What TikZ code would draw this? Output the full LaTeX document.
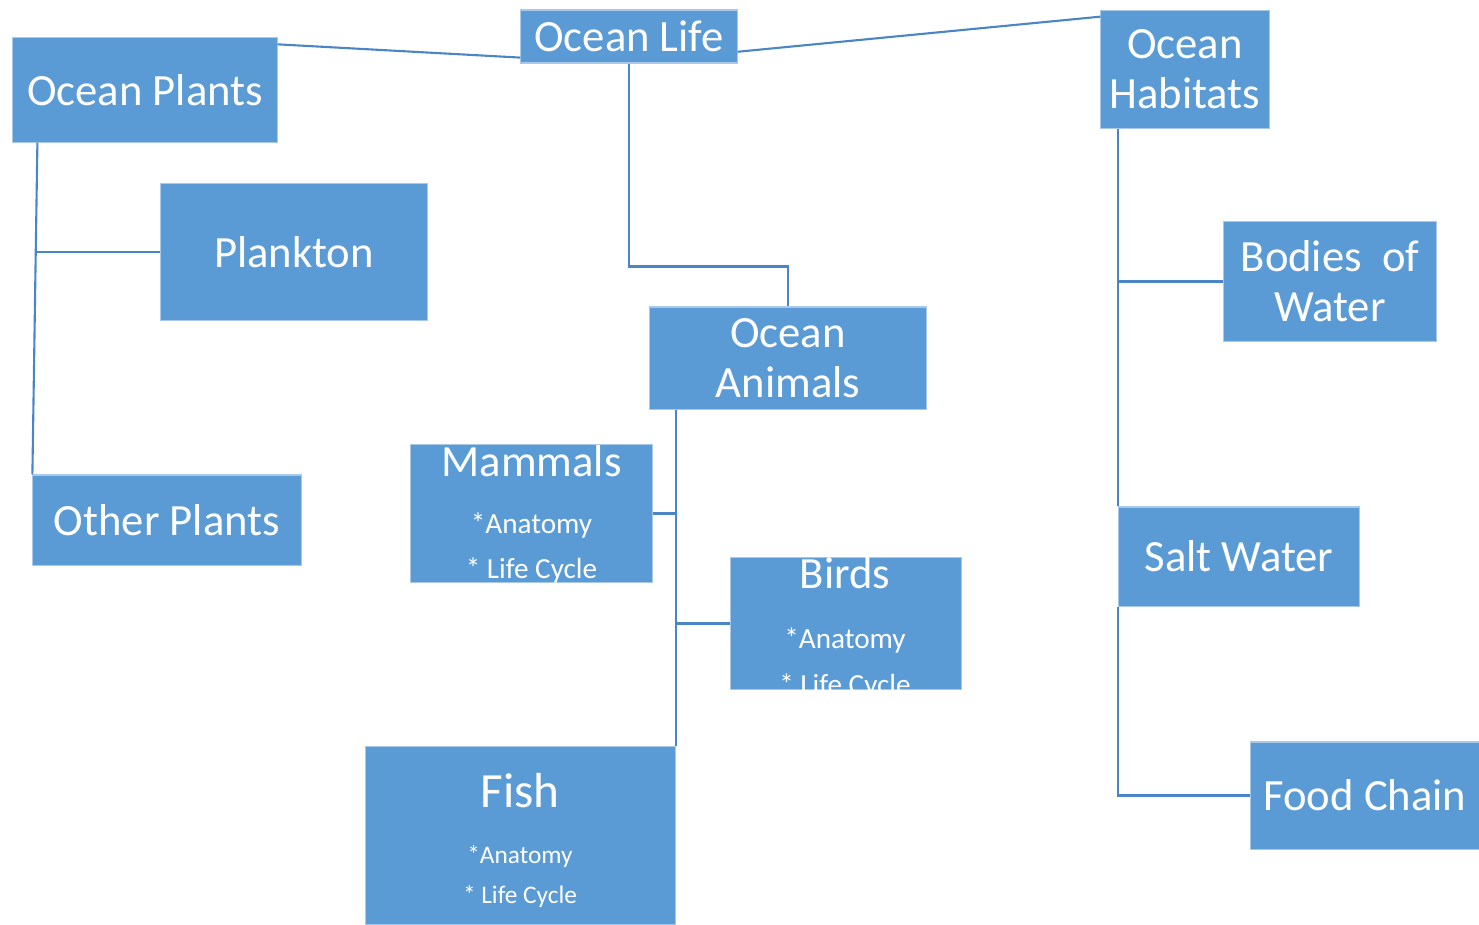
\documentclass[tikz,border=0pt]{standalone}
\usepackage{fontspec}
\setmainfont{Carlito}
\definecolor{boxblue}{HTML}{5B9BD5}
\definecolor{boxedge}{HTML}{A9C9EA}
\definecolor{linkblue}{HTML}{4A86C5}

\begin{document}
\begin{tikzpicture}[x=0.01cm,y=-0.01cm,
    topic/.style={draw=boxedge,line width=0.3pt,fill=boxblue,text=white,inner sep=0pt,align=center,font=\fontsize{12.7}{14.2}\selectfont},
    item/.style={text=white,inner sep=0pt,anchor=base,font=\fontsize{8.3}{10}\selectfont},
    link/.style={draw=linkblue,line width=0.6pt}]
        \useasboundingbox (0,0) rectangle (1479,924);
        %% Topics
        \node[topic,minimum width=2.16cm,minimum height=0.53cm] (life) at (629,36.5) {Ocean Life};
        \node[topic,minimum width=2.64cm,minimum height=1.04cm] (plants) at (145,90) {Ocean Plants};
        \node[topic,minimum width=1.68cm,minimum height=1.17cm] (habitats) at (1185,69.5) {Ocean\\Habitats};
        \node[topic,minimum width=2.66cm,minimum height=1.36cm] (plankton) at (294,252) {Plankton};
        \node[topic,minimum width=2.68cm,minimum height=0.90cm] (other) at (167,520) {Other Plants};
        \node[topic,minimum width=2.76cm,minimum height=1.02cm] (animals) at (788,358) {Ocean\\Animals};
        \node[topic,minimum width=2.12cm,minimum height=1.19cm] (bodies) at (1330,281.5) {Bodies\ \ of\\Water};
        \node[topic,minimum width=2.40cm,minimum height=0.99cm] (salt) at (1239,556.5) {Salt Water};
        \node[topic,minimum width=2.28cm,minimum height=1.07cm] (food) at (1365,795.5) {Food Chain};
        %% Animal groups
        \node[topic,minimum width=2.41cm,minimum height=1.37cm] (mammals) at (531.5,513.5) {};
        \node[topic,minimum width=2.30cm,minimum height=1.31cm] (birds) at (846,623.5) {};
        \node[topic,minimum width=3.09cm,minimum height=1.77cm] (fish) at (520.5,835.5) {};
        \node[item,font=\fontsize{12.7}{14}\selectfont] (mammals-name) at (531.5,476) {Mammals};
        \node[item] (mammals-a) at (531.5,533) {*Anatomy};
        \node[item] (mammals-b) at (531.5,578) {* Life Cycle};
        \node[item,font=\fontsize{12.7}{14}\selectfont] (birds-name) at (845,588) {Birds};
        \node[item] (birds-a) at (845,648) {*Anatomy};
        \node[item] (birds-b) at (845,694) {* Life Cycle};
        \node[item,font=\fontsize{14}{16}\selectfont] (fish-name) at (520,807) {Fish};
        \node[item,font=\fontsize{7.2}{9}\selectfont] (fish-a) at (520,863) {*Anatomy};
        \node[item,font=\fontsize{7.2}{9}\selectfont] (fish-b) at (520,903) {* Life Cycle};
        %% Links
        \draw[link] (plants.19) -- (life.191);
        \draw[link] (life.-8.5) -- (habitats.148.6);
        \draw[link] (life.south) -- ++(0,203) -| (animals.north);
        \draw[link] ([xshift=0.25cm]plants.south west) -- (other.north west);
        \draw[link] (plankton.west) -- ++(-124,0);
        \draw[link] (habitats.south west -| salt.north west) -- (salt.north west);
        \draw[link] (bodies.west) -- (bodies.west -| salt.west);
        \draw[link] (salt.south west) |- (food.west);
        \draw[link] ([xshift=0.27cm]animals.south west) coordinate (trunk) -- (trunk |- fish.north);
        \draw[link] (mammals.east) -- (mammals.east -| trunk);
        \draw[link] (birds.west) -- (birds.west -| trunk);
    \end{tikzpicture}
\end{document}
